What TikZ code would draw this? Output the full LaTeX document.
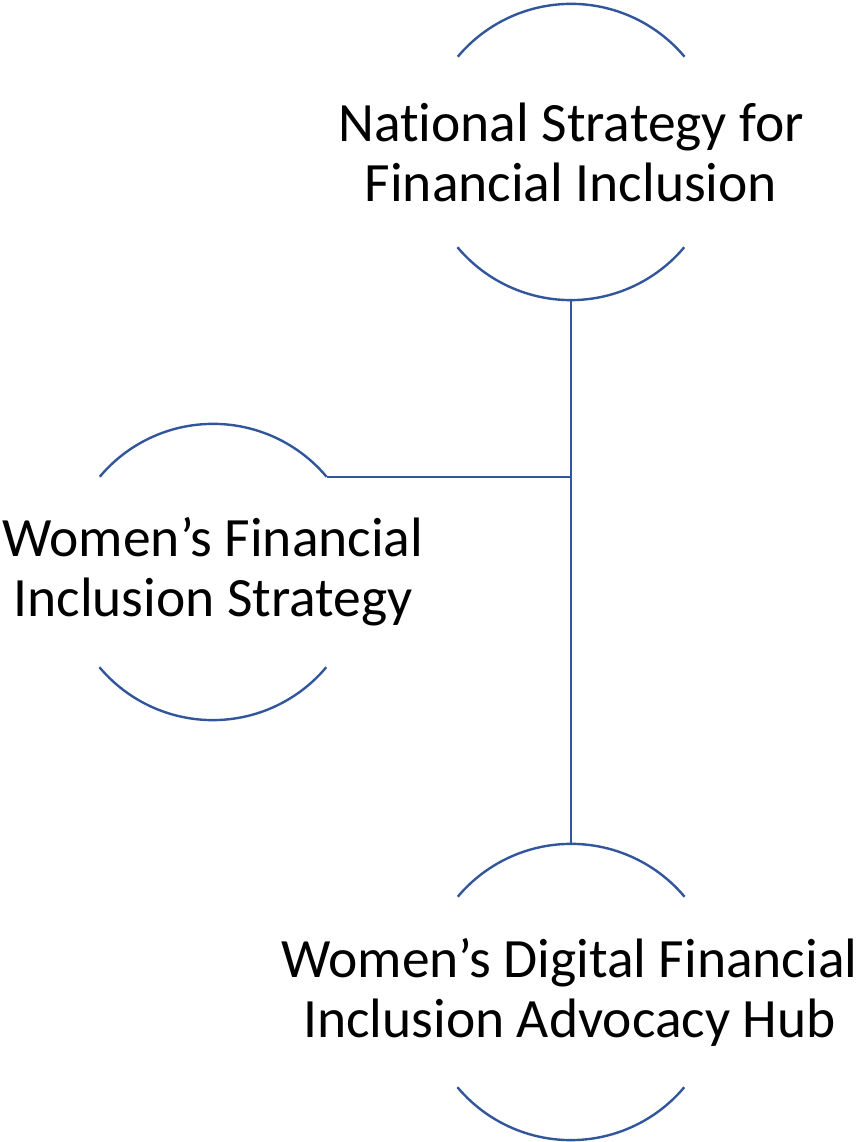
\documentclass[tikz,border=0pt]{standalone}
\usepackage{fontspec}
\setmainfont{Carlito}[RawFeature=-liga]
\definecolor{arcblue}{RGB}{50,86,156}
\begin{document}
\begin{tikzpicture}[x=1pt,y=1pt,
  ring/.style={circle,draw=none,inner sep=0pt,minimum size=296pt},
  label text/.style={align=center,inner sep=0pt,font=\fontsize{55.5}{60}\selectfont},
  rim/.style={draw=arcblue,line width=2.4pt},
  link/.style={draw=arcblue,line width=2.4pt}]
\useasboundingbox (0,0) rectangle (858,1142);
\node[ring] (nat) at (571,990) {};
\node[ring] (wfi) at (213,570) {};
\node[ring] (hub) at (571,150) {};
\node[label text] (natT) at (nat.center) {National Strategy for\\Financial Inclusion};
\node[label text] (wfiT) at (wfi.center) {Women’s Financial\\Inclusion Strategy};
\node[label text] (hubT) at (569.5,150) {Women’s Digital Financial\\Inclusion Advocacy Hub};
\foreach \n in {nat,wfi,hub}{
  \draw[rim] (\n.40) arc[start angle=40,end angle=140,radius=148pt];
  \draw[rim] (\n.220) arc[start angle=220,end angle=320,radius=148pt];
}
\coordinate (junc) at (nat.south |- wfi.40);
\draw[link] (nat.south) -- (hub.north);
\draw[link] (wfi.40) -- (junc);
\end{tikzpicture}
\end{document}
